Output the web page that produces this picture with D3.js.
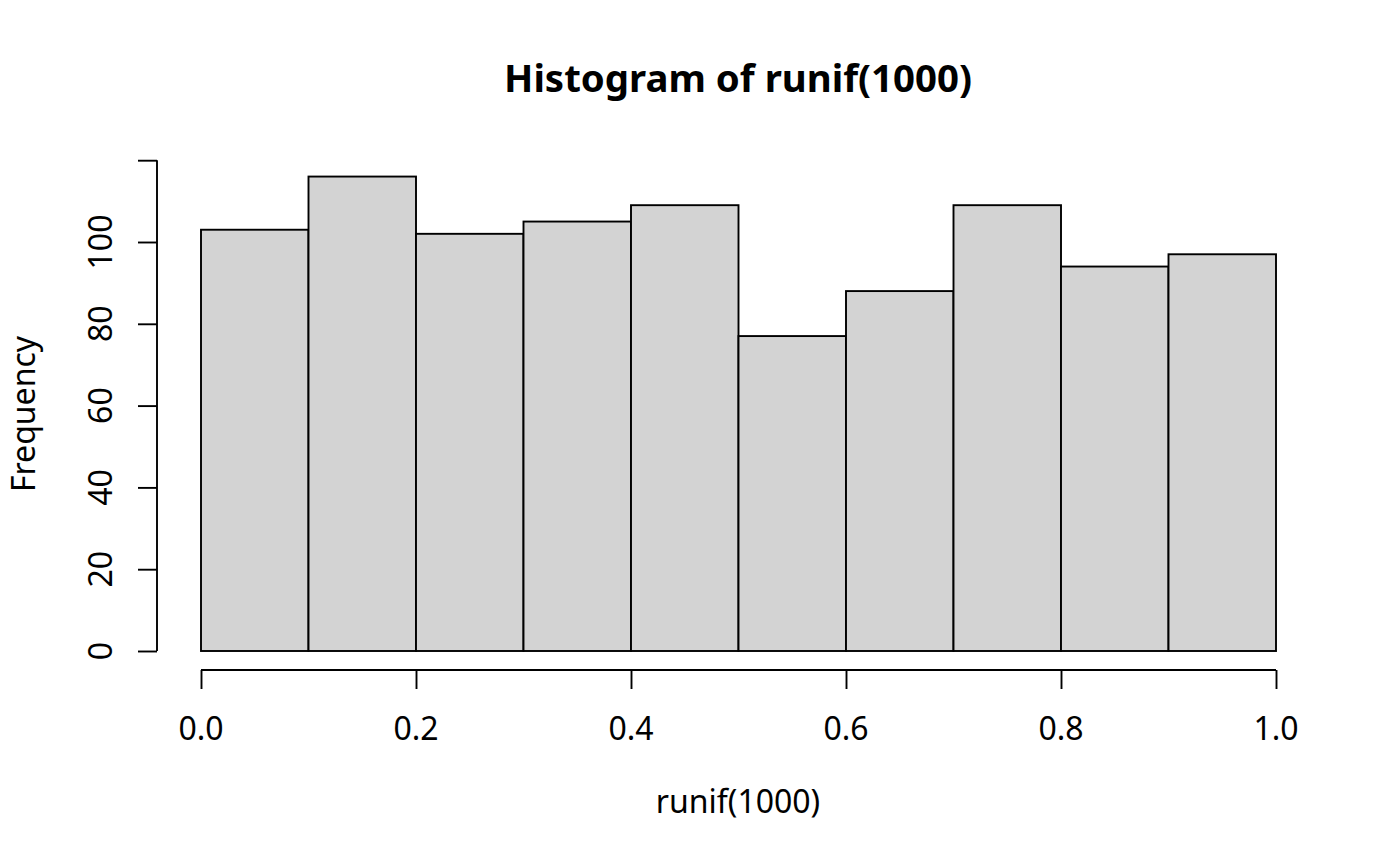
<!DOCTYPE html>
<html>
<head>
<meta charset="utf-8">
<script src="https://cdn.jsdelivr.net/npm/d3@7"></script>
<style>
html,body{margin:0;padding:0;background:#fff;}
svg text{font-family:"Noto Sans","Open Sans",sans-serif;fill:#000;}
</style>
</head>
<body>
<svg id="chart" width="1400" height="866"></svg>
<script>
// ---- data ----
const binStarts = [0.0, 0.1, 0.2, 0.3, 0.4, 0.5, 0.6, 0.7, 0.8, 0.9];
const binEnds   = [0.1, 0.2, 0.3, 0.4, 0.5, 0.6, 0.7, 0.8, 0.9, 1.0];
const counts    = [103, 116, 102, 105, 109, 77, 88, 109, 94, 97];
const xTicks = [0.0, 0.2, 0.4, 0.6, 0.8, 1.0];
const xTickLabels = ["0.0", "0.2", "0.4", "0.6", "0.8", "1.0"];
const yTicks = [0, 20, 40, 60, 80, 100, 120];
const yTickLabels = ["0", "20", "40", "60", "80", "100", ""];
const titleText = "Histogram of runif(1000)";
const xLabel = "runif(1000)";
const yLabel = "Frequency";

// ---- layout ----
const svg = d3.select("#chart");
const x = d3.scaleLinear().domain([0, 1]).range([201, 1276]);
const y = d3.scaleLinear().domain([0, 120]).range([651, 160.2]);
const axisY = 670, axisX = 157, tickLen = 19, lw = 1.9;

// bars
const bins = counts.map((c, i) => ({x0: binStarts[i], x1: binEnds[i], n: c}));
svg.append("g").selectAll("rect").data(bins).join("rect")
  .attr("x", d => x(d.x0))
  .attr("y", d => y(d.n))
  .attr("width", d => x(d.x1) - x(d.x0))
  .attr("height", d => y(0) - y(d.n))
  .attr("fill", "#d3d3d3")
  .attr("stroke", "#000")
  .attr("stroke-width", lw);

// x axis
const gx = svg.append("g").attr("transform", `translate(0,${axisY})`)
  .call(d3.axisBottom(x).tickValues(xTicks).tickSize(tickLen).tickSizeOuter(0).tickFormat(""));
gx.select(".domain").attr("stroke-width", lw).attr("d", `M${x(0)},0H${x(1)}`);
gx.selectAll(".tick line").attr("stroke-width", lw);
gx.selectAll(".tick text").remove();
svg.append("g").selectAll("text").data(xTicks).join("text")
  .attr("x", d => x(d)).attr("y", 740)
  .attr("text-anchor", "middle")
  .style("font-size", "32px")
  .text((d, i) => xTickLabels[i]);

// y axis
const gy = svg.append("g").attr("transform", `translate(${axisX},0)`)
  .call(d3.axisLeft(y).tickValues(yTicks).tickSize(tickLen).tickSizeOuter(0).tickFormat(""));
gy.select(".domain").attr("stroke-width", lw).attr("d", `M0,${y(0)}V${y(120)}`);
gy.selectAll(".tick line").attr("stroke-width", lw);
gy.selectAll(".tick text").remove();
svg.append("g").selectAll("text").data(yTicks).join("text")
  .attr("transform", d => `translate(112,${y(d)}) rotate(-90)`)
  .attr("text-anchor", "middle")
  .style("font-size", "32px")
  .text((d, i) => yTickLabels[i]);

// title and axis labels
svg.append("text").attr("x", 738).attr("y", 92)
  .attr("text-anchor", "middle")
  .style("font-size", "38.4px").style("font-weight", "bold")
  .text(titleText);
svg.append("text").attr("x", 738).attr("y", 813)
  .attr("text-anchor", "middle")
  .style("font-size", "32px")
  .text(xLabel);
svg.append("text").attr("transform", "translate(35,414) rotate(-90)")
  .attr("text-anchor", "middle")
  .style("font-size", "32px")
  .text(yLabel);
</script>
</body>
</html>
